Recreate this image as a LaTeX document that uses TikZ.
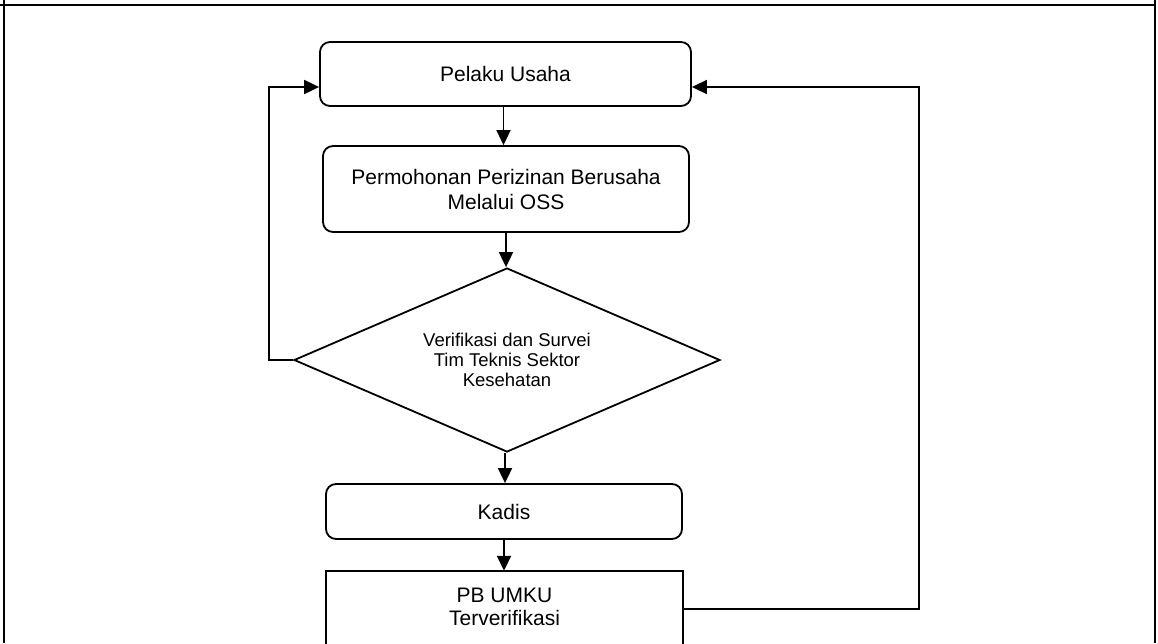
\documentclass[tikz,border=0pt]{standalone}
\usepackage{fontspec}
\setmainfont{Liberation Sans}
\usetikzlibrary{shapes.geometric,arrows.meta}
\begin{document}
\begin{tikzpicture}[x=1pt,y=-1pt,
  boxline/.style={line width=1.8pt,black},
  rbox/.style={draw,boxline,rounded corners=10pt,inner sep=0pt,align=center,font=\fontsize{21}{25}\selectfont},
  dbox/.style={draw,boxline,diamond,aspect=2.315,inner sep=0pt,align=center,font=\fontsize{18.5}{20}\selectfont},
  pbtext/.style={inner sep=0pt,align=center,font=\fontsize{21}{23}\selectfont},
  arr/.style={line width=1.8pt,-{Triangle[length=15pt,width=14pt]}},
  frameline/.style={line width=1.8pt,black}]
\useasboundingbox (0,0) rectangle (1158,643);
% frame
\draw[frameline] (0,4.7) -- (1156,4.7);
\draw[frameline] (4,0) -- (4,643);
\draw[frameline] (1155,0) -- (1155,643);
% nodes
\node[rbox,minimum width=371pt,minimum height=64pt] (pu) at (505.5,74) {Pelaku Usaha};
\node[rbox,minimum width=366pt,minimum height=86pt] (pm) at (506,189) {Permohonan Perizinan Berusaha\\Melalui OSS};
\node[dbox,minimum width=426pt,minimum height=184pt] (dv) at (507,360) {Verifikasi dan Survei\\Tim Teknis Sektor\\Kesehatan};
\node[rbox,minimum width=356pt,minimum height=55pt] (kd) at (504,511.5) {Kadis};
\node[pbtext,minimum width=357pt,minimum height=71pt] (pb) at (504.5,606.5) {PB UMKU\\Terverifikasi};
\draw[boxline] ([yshift=-20pt]pb.south west) -- (pb.north west) -- (pb.north east) -- ([yshift=-20pt]pb.south east);
% connectors
\draw[arr] ([xshift=-2pt]pu.south) -- ([xshift=-2pt]pu.south |- pm.north);
\draw[arr] (pm.south) -- (pm.south |- dv.north);
\draw[arr] ([xshift=-2pt]dv.south) -- ([xshift=-2pt]dv.south |- kd.north);
\draw[arr] (kd.south) -- (kd.south |- pb.north);
\draw[arr] (dv.west) -- ++(-24,0) |- ([yshift=-13pt]pu.west);
\draw[arr] ([yshift=-2.5pt]pb.east) -- ++(236,0) |- ([yshift=-13pt]pu.east);
\end{tikzpicture}
\end{document}
